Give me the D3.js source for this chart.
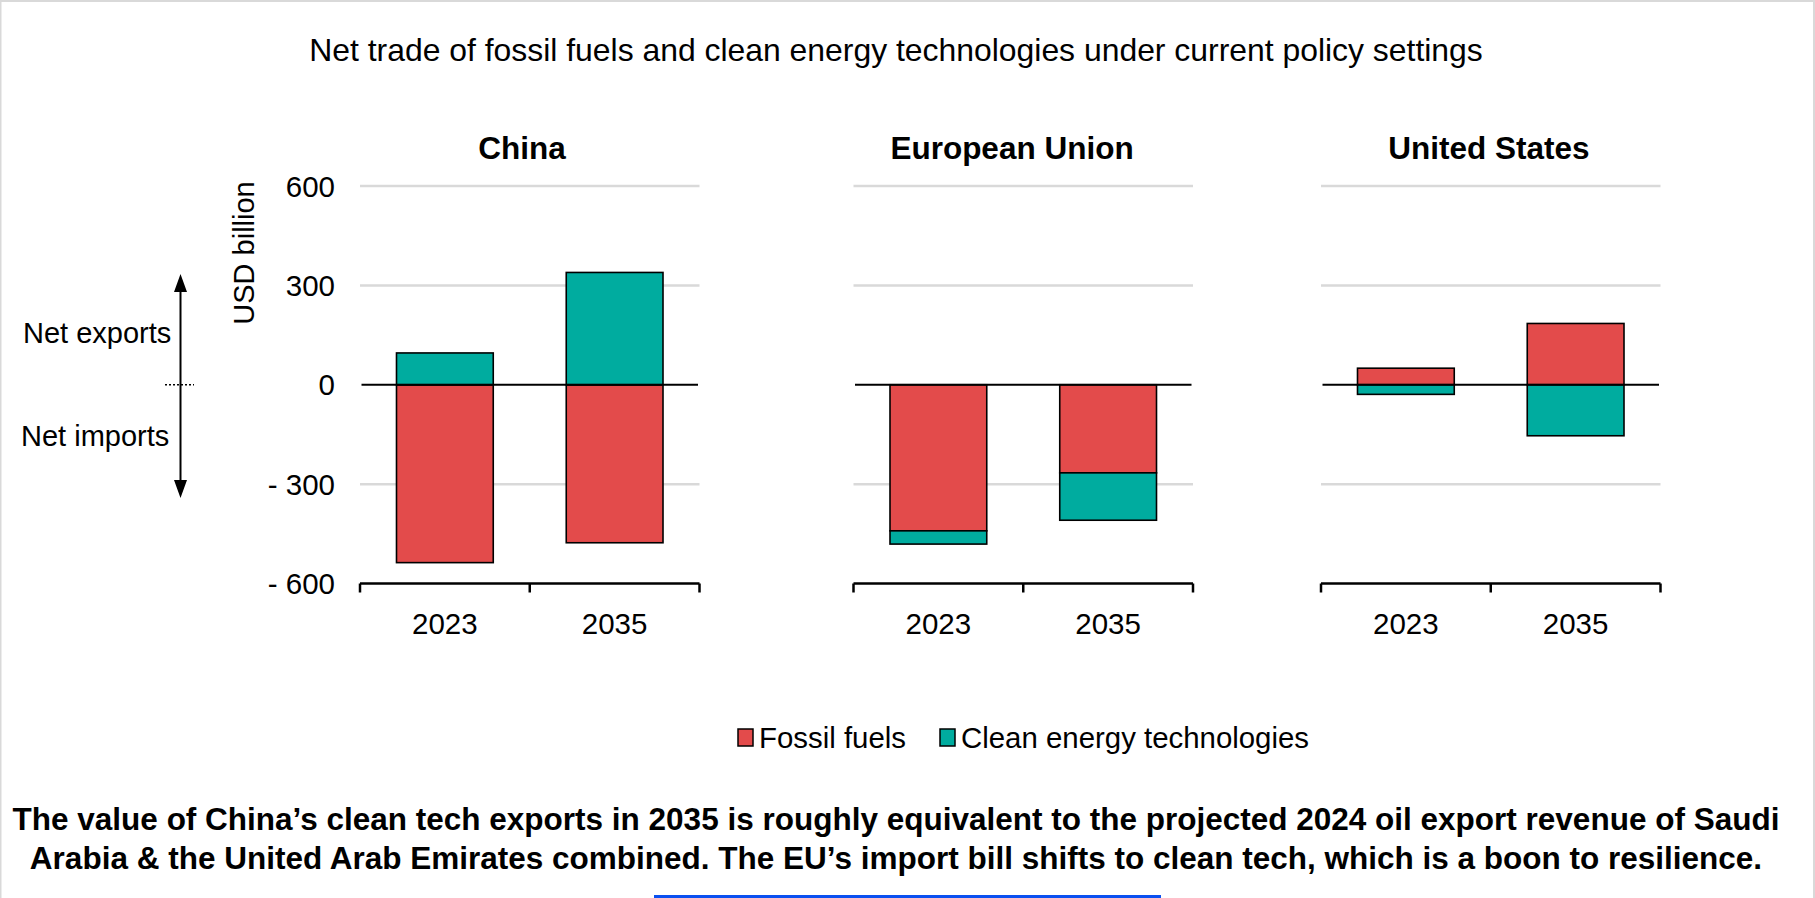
<!DOCTYPE html>
<html>
<head>
<meta charset="utf-8">
<script src="https://cdn.jsdelivr.net/npm/d3@7"></script>
<style>
  body { margin: 0; background: #fff; overflow: hidden; }
  text { font-family: "Liberation Sans", Arial, sans-serif; fill: #000; }
</style>
</head>
<body>
<div id="chart"></div>
<script>
const regions = ["China", "European Union", "United States"];
const years = ["2023", "2035"];
const seriesNames = ["Fossil fuels", "Clean energy technologies"];
// USD billion, one row per region, one value per year
const fossilFuels = [[-537, -477], [-441, -266], [50, 185]];
const cleanEnergy = [[96, 339], [-40, -143], [-29, -154]];
const yTicks = [600, 300, 0, -300, -600];

const colors = ["#E34B4B", "#00AC9F"];
const width = 1815, height = 898;
const panelLeft = [360, 853.5, 1321];
const panelWidth = 339.5;
const titleX = [522, 1012, 1489];

const svg = d3.select("#chart").append("svg")
  .attr("width", width)
  .attr("height", height);

// frame
svg.append("rect").attr("x", 0).attr("y", 0).attr("width", width).attr("height", 2).attr("fill", "#d9d9d9");
svg.append("rect").attr("x", 0).attr("y", 0).attr("width", 1.5).attr("height", height).attr("fill", "#d9d9d9");
svg.append("rect").attr("x", 1813).attr("y", 0).attr("width", 2).attr("height", height).attr("fill", "#d9d9d9");

svg.append("text")
  .attr("x", 896).attr("y", 61)
  .attr("text-anchor", "middle")
  .style("font-size", "31.9px")
  .text("Net trade of fossil fuels and clean energy technologies under current policy settings");

const y = d3.scaleLinear().domain([-600, 600]).range([583.5, 186]);
const x = d3.scaleBand().domain(years).range([0, panelWidth])
  .paddingInner(0.43).paddingOuter(0.215);

const fmt = d => d < 0 ? "- " + Math.abs(d) : String(d);

regions.forEach((region, r) => {
  const g = svg.append("g").attr("transform", `translate(${panelLeft[r]},0)`);

  g.selectAll(".grid")
    .data(yTicks.filter(t => t !== 0 && t !== -600))
    .enter().append("line")
    .attr("class", "grid")
    .attr("x1", 0).attr("x2", panelWidth)
    .attr("y1", d => y(d)).attr("y2", d => y(d))
    .attr("stroke", "#d9d9d9").attr("stroke-width", 2.5);

  const rows = years.map((yr, i) => ({
    year: yr,
    "Fossil fuels": fossilFuels[r][i],
    "Clean energy technologies": cleanEnergy[r][i]
  }));
  const stacked = d3.stack().keys(seriesNames).offset(d3.stackOffsetDiverging)(rows);

  stacked.forEach((s, k) => {
    g.selectAll(".bar-" + k)
      .data(s)
      .enter().append("rect")
      .attr("class", "bar-" + k)
      .attr("x", d => x(d.data.year))
      .attr("width", x.bandwidth())
      .attr("y", d => y(Math.max(d[0], d[1])))
      .attr("height", d => Math.abs(y(d[0]) - y(d[1])))
      .attr("fill", colors[k])
      .attr("stroke", "#000").attr("stroke-width", 1.6);
  });

  // zero line
  g.append("line")
    .attr("x1", 1.5).attr("x2", panelWidth - 1.5)
    .attr("y1", y(0)).attr("y2", y(0))
    .attr("stroke", "#000").attr("stroke-width", 2);

  // category axis at the bottom
  g.append("line")
    .attr("x1", 0).attr("x2", panelWidth)
    .attr("y1", y(-600)).attr("y2", y(-600))
    .attr("stroke", "#000").attr("stroke-width", 2.5);
  g.selectAll(".tick")
    .data(d3.range(years.length + 1))
    .enter().append("line")
    .attr("x1", i => i * x.step()).attr("x2", i => i * x.step())
    .attr("y1", y(-600)).attr("y2", y(-600) + 9)
    .attr("stroke", "#000").attr("stroke-width", 2.5);

  g.selectAll(".xlabel")
    .data(years)
    .enter().append("text")
    .attr("x", d => x(d) + x.bandwidth() / 2)
    .attr("y", 634)
    .attr("text-anchor", "middle")
    .style("font-size", "29.5px")
    .text(d => d);

  svg.append("text")
    .attr("x", titleX[r]).attr("y", 159)
    .attr("text-anchor", "middle")
    .style("font-size", "31.5px")
    .style("font-weight", "bold")
    .text(region);
});

// y axis labels (left panel only)
svg.selectAll(".ylabel")
  .data(yTicks)
  .enter().append("text")
  .attr("x", 335)
  .attr("y", d => y(d) + 10.5)
  .attr("text-anchor", "end")
  .style("font-size", "29.5px")
  .text(fmt);

svg.append("text")
  .attr("transform", "translate(254,253) rotate(-90)")
  .attr("text-anchor", "middle")
  .style("font-size", "29px")
  .text("USD billion");

// net exports / imports annotation
svg.append("line")
  .attr("x1", 180.5).attr("x2", 180.5)
  .attr("y1", 288).attr("y2", 484)
  .attr("stroke", "#000").attr("stroke-width", 2);
svg.append("path")
  .attr("d", "M180.5,274 L174,292 L187,292 Z M180.5,498 L174,480 L187,480 Z")
  .attr("fill", "#000");
svg.append("line")
  .attr("x1", 165).attr("x2", 194)
  .attr("y1", y(0)).attr("y2", y(0))
  .attr("stroke", "#000").attr("stroke-width", 1.5)
  .attr("stroke-dasharray", "2,2");
svg.append("text").attr("x", 23).attr("y", 343).style("font-size", "29px").text("Net exports");
svg.append("text").attr("x", 21).attr("y", 446).style("font-size", "29px").text("Net imports");

// legend
const legendX = [738, 940];
seriesNames.forEach((name, k) => {
  svg.append("rect")
    .attr("x", legendX[k]).attr("y", 729)
    .attr("width", 15).attr("height", 17)
    .attr("fill", colors[k])
    .attr("stroke", "#000").attr("stroke-width", 1.5);
  svg.append("text")
    .attr("x", legendX[k] + 21).attr("y", 748)
    .style("font-size", "29.4px")
    .text(name);
});

// takeaway
const notes = [
  "The value of China\u2019s clean tech exports in 2035 is roughly equivalent to the projected 2024 oil export revenue of Saudi",
  "Arabia & the United Arab Emirates combined. The EU\u2019s import bill shifts to clean tech, which is a boon to resilience."
];
svg.selectAll(".note")
  .data(notes)
  .enter().append("text")
  .attr("x", 896)
  .attr("y", (d, i) => 830 + i * 38.5)
  .attr("text-anchor", "middle")
  .style("font-size", "31.5px")
  .style("font-weight", "bold")
  .text(d => d);

svg.append("rect")
  .attr("x", 654).attr("y", 895)
  .attr("width", 507).attr("height", 3)
  .attr("fill", "#0A50F0");
</script>
</body>
</html>
